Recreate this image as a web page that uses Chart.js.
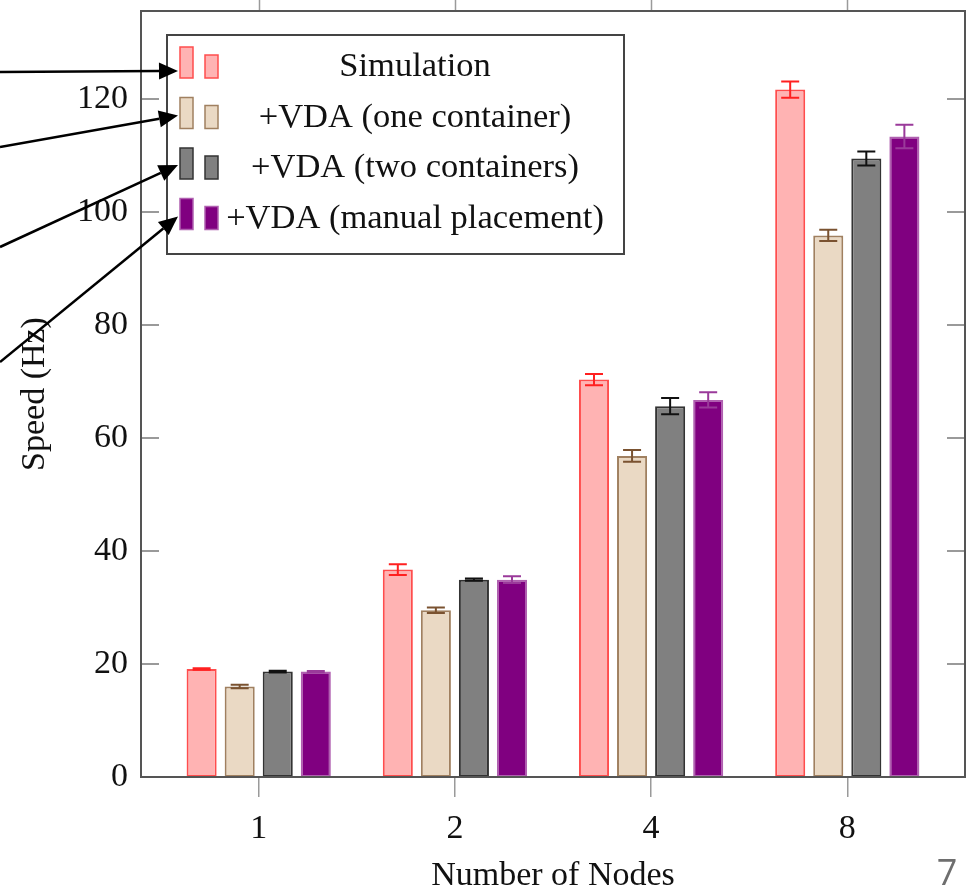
<!DOCTYPE html>
<html><head><meta charset="utf-8">
<script src="https://cdn.jsdelivr.net/npm/chart.js@4/dist/chart.umd.min.js"></script>
<style>html,body{margin:0;padding:0;background:#fff;overflow:hidden}#wrap{width:968px;height:893px;position:relative}</style>
</head><body><div id="wrap"><canvas id="c" width="968" height="893"></canvas></div>
<script>
// ---- data ----
const categories = ['1', '2', '4', '8'];
const seriesNames = ['Simulation', '+VDA (one container)', '+VDA (two containers)', '+VDA (manual placement)'];
const simulation = [19.1, 36.7, 70.3, 121.6];
const simulationErr = [0.15, 0.95, 1.0, 1.45];
const oneContainer = [16.0, 29.5, 56.8, 95.8];
const oneContainerErr = [0.3, 0.5, 1.05, 1.0];
const twoContainers = [18.65, 34.9, 65.6, 109.4];
const twoContainersErr = [0.15, 0.2, 1.45, 1.25];
const manualPlacement = [18.65, 34.9, 66.7, 113.3];
const manualPlacementErr = [0.1, 0.6, 1.35, 2.1];
const yTicks = [0, 20, 40, 60, 80, 100, 120];
const xTitle = 'Number of Nodes';
const yTitle = 'Speed (Hz)';
const pageNumber = '7';

// ---- styles ----
const fills = ['#ffb3b3', '#ead9c4', '#808080', '#800080'];
const borders = ['#ff4d4d', '#a08060', '#333333', '#b060b0'];
const errColors = ['#ff2020', '#7a5230', '#111111', '#9a3a9a'];
const values = [simulation, oneContainer, twoContainers, manualPlacement];
const errors = [simulationErr, oneContainerErr, twoContainersErr, manualPlacementErr];
const SERIF = '"Liberation Serif", "Times New Roman", serif';

const datasets = seriesNames.map((name, s) => ({
  label: name,
  data: values[s].map((v, i) => ({ x: i, y: v })),
  errors: errors[s],
  errorColor: errColors[s],
  backgroundColor: fills[s],
  borderColor: borders[s],
  borderWidth: 2,
  borderSkipped: false,
  categoryPercentage: 0.776,
  barPercentage: 0.79
}));

const deco = {
  id: 'deco',
  afterDatasetsDraw(chart) {
    const ctx = chart.ctx, ys = chart.scales.y;
    chart.data.datasets.forEach((ds, di) => {
      const meta = chart.getDatasetMeta(di);
      meta.data.forEach((bar, i) => {
        const v = ds.data[i].y, e = ds.errors[i];
        const yt = ys.getPixelForValue(v + e), yb = ys.getPixelForValue(v - e);
        ctx.save();
        ctx.strokeStyle = ds.errorColor; ctx.lineWidth = 2;
        ctx.beginPath();
        ctx.moveTo(bar.x, yt); ctx.lineTo(bar.x, yb);
        ctx.moveTo(bar.x - 9, yt); ctx.lineTo(bar.x + 9, yt);
        ctx.moveTo(bar.x - 9, yb); ctx.lineTo(bar.x + 9, yb);
        ctx.stroke();
        ctx.restore();
      });
    });
  },
  afterDraw(chart) {
    const ctx = chart.ctx, a = chart.chartArea, xs = chart.scales.x, ys = chart.scales.y;
    ctx.save();
    // inward y ticks (both sides)
    ctx.strokeStyle = '#9a9a9a'; ctx.lineWidth = 2;
    ys.ticks.forEach(t => {
      const y = Math.round(ys.getPixelForValue(t.value));
      ctx.beginPath();
      ctx.moveTo(a.left, y); ctx.lineTo(a.left + 18, y);
      ctx.moveTo(a.right - 18, y); ctx.lineTo(a.right, y);
      ctx.stroke();
    });
    // top outward x ticks
    ctx.lineWidth = 1.5;
    xs.ticks.forEach(t => {
      const x = Math.round(xs.getPixelForValue(t.value)) + 0.5;
      ctx.beginPath(); ctx.moveTo(x, a.top - 20); ctx.lineTo(x, a.top); ctx.stroke();
    });
    // frame
    ctx.strokeStyle = '#555'; ctx.lineWidth = 2;
    ctx.strokeRect(a.left, a.top, a.right - a.left, a.bottom - a.top);

    // legend
    const bx = a.left + 26, by = a.top + 24, bw = 457, bh = 219;
    ctx.fillStyle = '#fff'; ctx.fillRect(bx, by, bw, bh);
    ctx.strokeStyle = '#444'; ctx.lineWidth = 2; ctx.strokeRect(bx, by, bw, bh);
    const rows = [];
    chart.data.datasets.forEach((ds, k) => {
      const cy = by + 32 + k * 50.5;
      ctx.fillStyle = ds.backgroundColor; ctx.strokeStyle = ds.borderColor; ctx.lineWidth = 1.5;
      ctx.fillRect(bx + 13, cy - 20, 13, 31); ctx.strokeRect(bx + 13, cy - 20, 13, 31);
      ctx.fillRect(bx + 38, cy - 12, 13, 23); ctx.strokeRect(bx + 38, cy - 12, 13, 23);
      ctx.fillStyle = '#111'; ctx.font = '34.5px ' + SERIF;
      ctx.textAlign = 'center'; ctx.textBaseline = 'middle';
      ctx.fillText(ds.label, bx + 248, cy);
      rows.push({ x: bx + 11, y: cy });
    });
    // arrows to legend entries
    const starts = [72, 147, 247, 362];
    const tipDy = [4, -2, -3, -2];
    ctx.strokeStyle = '#000'; ctx.fillStyle = '#000'; ctx.lineWidth = 2.5;
    rows.forEach((r, k) => {
      const x0 = 0, y0 = starts[k], x1 = r.x, y1 = r.y + tipDy[k];
      const ang = Math.atan2(y1 - y0, x1 - x0), L = 19, W = 8.5;
      const bxh = x1 - L * Math.cos(ang), byh = y1 - L * Math.sin(ang);
      ctx.beginPath(); ctx.moveTo(x0, y0); ctx.lineTo(bxh, byh); ctx.stroke();
      ctx.beginPath();
      ctx.moveTo(x1, y1);
      ctx.lineTo(bxh + W * Math.sin(ang), byh - W * Math.cos(ang));
      ctx.lineTo(bxh - W * Math.sin(ang), byh + W * Math.cos(ang));
      ctx.closePath(); ctx.fill();
    });
    // page number
    ctx.fillStyle = '#6e6e6e'; ctx.font = '36px "Open Sans", sans-serif';
    ctx.textAlign = 'center'; ctx.textBaseline = 'middle';
    ctx.fillText(pageNumber, 947, 875);
    ctx.restore();
  }
};

Chart.defaults.font.family = SERIF;
Chart.defaults.color = '#111';

new Chart(document.getElementById('c'), {
  type: 'bar',
  data: { datasets },
  options: {
    responsive: false,
    animation: false,
    devicePixelRatio: 1,
    layout: { padding: { top: 11, right: 3, left: 0, bottom: 0 } },
    plugins: { legend: { display: false }, tooltip: { enabled: false } },
    scales: {
      x: {
        type: 'linear',
        min: -0.6, max: 3.6,
        offset: false,
        grid: { display: true, drawOnChartArea: false, drawTicks: true, tickLength: 20, color: '#9a9a9a', lineWidth: 1.5, offset: false },
        border: { display: false },
        afterBuildTicks: s => { s.ticks = categories.map((c, i) => ({ value: i })); },
        afterFit: s => { s.height = 116; s.paddingLeft = 0; s.paddingRight = 0; },
        ticks: {
          padding: 12,
          font: { size: 34, family: SERIF },
          color: '#111',
          maxRotation: 0,
          callback: v => categories[v] !== undefined ? categories[v] : ''
        },
        title: { display: true, text: xTitle, font: { size: 34, family: SERIF, lineHeight: 1 }, color: '#111', padding: { top: 0, bottom: 0 } }
      },
      y: {
        type: 'linear',
        min: 0, max: 135.5,
        grid: { display: false, drawTicks: false },
        border: { display: false },
        afterBuildTicks: s => { s.ticks = yTicks.map(v => ({ value: v })); },
        afterFit: s => { s.width = 141; s.paddingTop = 0; s.paddingBottom = 0; },
        ticks: { padding: 13, font: { size: 34, family: SERIF }, color: '#111' },
        title: { display: true, text: yTitle, font: { size: 34, family: SERIF, lineHeight: 1 }, color: '#111', padding: { top: 18, bottom: 0 } }
      }
    }
  },
  plugins: [deco]
});
</script></body></html>
